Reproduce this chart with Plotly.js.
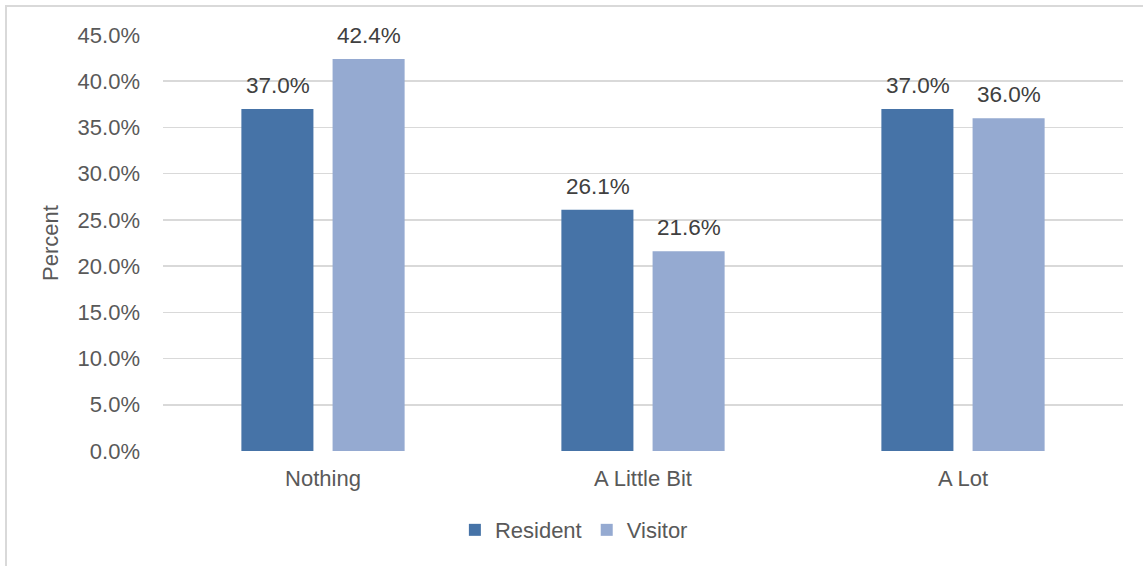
<!DOCTYPE html>
<html>
<head>
<meta charset="utf-8">
<script src="https://cdn.plot.ly/plotly-3.0.1.min.js"></script>
<style>
html,body{margin:0;padding:0;background:#fff;}
#wrap{position:relative;width:1143px;height:566px;overflow:hidden;}
#chart{width:1143px;height:566px;}
#frame{position:absolute;left:5px;top:5px;width:1200px;height:700px;border:2px solid #d9d9d9;pointer-events:none;box-sizing:border-box;}
</style>
</head>
<body>
<div id="wrap"><div id="chart"></div><div id="frame"></div></div>
<script>
const categories = ["Nothing", "A Little Bit", "A Lot"];
const resident = [37.0, 26.1, 37.0];
const visitor = [42.4, 21.6, 36.0];
const yTicks = [0, 5, 10, 15, 20, 25, 30, 35, 40, 45];

const fam = "Liberation Sans, Arial, sans-serif";

const traces = [
  {type: "bar", name: "Resident", x: categories, y: resident,
   marker: {color: "#4673A7"}, hoverinfo: "none"},
  {type: "bar", name: "Visitor", x: categories, y: visitor,
   marker: {color: "#95AAD1"}, hoverinfo: "none"}
];

const annotations = [];
categories.forEach((c, i) => {
  annotations.push({x: c, y: resident[i], xref: "x", yref: "y", text: resident[i].toFixed(1) + "%",
    showarrow: false, xshift: -45.5, yshift: 9, yanchor: "bottom",
    font: {family: fam, size: 22.5, color: "#404040"}});
  annotations.push({x: c, y: visitor[i], xref: "x", yref: "y", text: visitor[i].toFixed(1) + "%",
    showarrow: false, xshift: 45.5, yshift: 9, yanchor: "bottom",
    font: {family: fam, size: 22.5, color: "#404040"}});
});

const layout = {
  width: 1143, height: 566,
  margin: {l: 163, r: 20, t: 35, b: 115},
  paper_bgcolor: "#fff", plot_bgcolor: "#fff",
  font: {family: fam, color: "#595959", size: 22},
  barmode: "group", bargap: 0.43, bargroupgap: 0.21,
  showlegend: true,
  annotations: annotations,
  legend: {orientation: "h", x: 0.428, xanchor: "center", y: -0.19, yanchor: "middle",
           font: {size: 22, color: "#595959"}, itemwidth: 30, traceorder: "normal"},
  xaxis: {showline: false, ticks: "", tickfont: {size: 22, color: "#595959"}, showgrid: false, zeroline: false,
          ticklabelstandoff: 12},
  yaxis: {range: [0, 45], tickvals: yTicks, ticktext: yTicks.map(v => v.toFixed(1) + "%"),
          showgrid: true, gridcolor: "#d9d9d9", gridwidth: 1.5, zeroline: false, showline: false,
          tickfont: {size: 22, color: "#595959"}, ticklen: 0, ticks: "", ticklabelstandoff: 22,
          title: {text: "Percent", font: {size: 22, color: "#595959"}, standoff: 12}}
};

Plotly.newPlot("chart", traces, layout, {displayModeBar: false, staticPlot: true});
</script>
</body>
</html>
